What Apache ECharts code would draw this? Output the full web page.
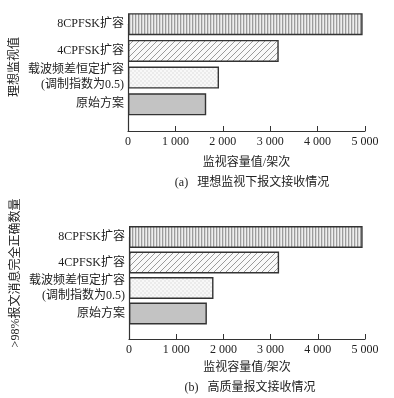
<!DOCTYPE html>
<html><head><meta charset="utf-8">
<script src="https://cdn.jsdelivr.net/npm/echarts@6/dist/echarts.min.js"></script>
<style>html,body{margin:0;padding:0;background:#fff}#c{width:394px;height:398px}</style>
</head><body><div id="c"></div>
<script>
const categories = ['', '原始方案', '载波频差恒定扩容\n(调制指数为0.5)', '4CPFSK扩容', '8CPFSK扩容'];
const valuesA = [null, 1650, 1920, 3180, 4950];
const valuesB = [null, 1650, 1790, 3180, 4950];
const xTicks = [0, 1000, 2000, 3000, 4000, 5000];
const yNameA = '理想监视值';
const yNameB = '>98%报文消息完全正确数量';
const xName = '监视容量值/架次';
const captionA = '(a)   理想监视下报文接收情况';
const captionB = '(b)   高质量报文接收情况';

const FONT = "'Liberation Serif','Noto Sans CJK SC',serif";
function pat(w, h, draw) {
  const c = document.createElement('canvas'); c.width = w; c.height = h;
  const ctx = c.getContext('2d'); draw(ctx); return c;
}
const pVert = pat(3, 4, ctx => {
  ctx.fillStyle = '#eeeeee'; ctx.fillRect(0, 0, 3, 4);
  ctx.fillStyle = '#9c9c9c'; ctx.fillRect(0, 0, 1, 4);
  ctx.fillStyle = '#d6d6d6'; ctx.fillRect(1, 0, 1, 4);
});
const pDiag = pat(6, 6, ctx => {
  ctx.fillStyle = '#f9f9f9'; ctx.fillRect(0, 0, 6, 6);
  ctx.strokeStyle = '#8e8e8e'; ctx.lineWidth = 0.9;
  ctx.beginPath();
  ctx.moveTo(-1, 7); ctx.lineTo(7, -1);
  ctx.moveTo(-1, 1); ctx.lineTo(1, -1);
  ctx.moveTo(5, 7); ctx.lineTo(7, 5);
  ctx.stroke();
});
const pDot = pat(4, 4, ctx => {
  ctx.fillStyle = '#f8f8f8'; ctx.fillRect(0, 0, 4, 4);
  ctx.fillStyle = '#ebebeb'; ctx.fillRect(0, 0, 2, 2); ctx.fillRect(2, 2, 2, 2);
});
const fills = [null, '#c3c3c3', {image: pDot, repeat: 'repeat'}, {image: pDiag, repeat: 'repeat'}, {image: pVert, repeat: 'repeat'}];

function fmt(v) { return v >= 1000 ? Math.floor(v / 1000) + ' ' + String(v % 1000).padStart(3, '0') : String(v); }

function mkData(vals) {
  return vals.map((v, i) => v == null ? '-' : {value: v, itemStyle: {color: fills[i], borderColor: '#333', borderWidth: 1.4}});
}

const chart = echarts.init(document.getElementById('c'), null, {renderer: 'canvas'});
const xAxisBase = (idx, nameGap) => ({
  type: 'value', gridIndex: idx, min: xTicks[0], max: xTicks[xTicks.length - 1], interval: xTicks[1] - xTicks[0],
  name: xName, nameLocation: 'middle', nameGap: nameGap,
  nameTextStyle: {fontFamily: FONT, fontSize: 12, color: '#222'},
  axisLine: {show: true, lineStyle: {color: '#333', width: 1.2}},
  axisTick: {show: true, inside: true, length: 5, lineStyle: {color: '#333'}},
  axisLabel: {formatter: fmt, fontFamily: FONT, fontSize: 12, color: '#222', margin: 5},
  splitLine: {show: false}
});
const yAxisBase = (idx) => ({
  type: 'category', gridIndex: idx, data: categories, boundaryGap: false,
  axisLine: {show: true, lineStyle: {color: '#333', width: 1.2}},
  axisTick: {show: false},
  axisLabel: {fontFamily: FONT, fontSize: 12, color: '#222', margin: 4, lineHeight: 15, align: 'right'},
  splitLine: {show: false}
});
chart.setOption({
  animation: false,
  backgroundColor: '#fff',
  grid: [
    {left: 128, right: 29, top: 24.2, bottom: 267},
    {left: 129, right: 29, top: 237, bottom: 59}
  ],
  xAxis: [xAxisBase(0, 26), xAxisBase(1, 23)],
  yAxis: [yAxisBase(0), yAxisBase(1)],
  series: [
    {type: 'bar', xAxisIndex: 0, yAxisIndex: 0, barWidth: 22, data: mkData(valuesA)},
    {type: 'bar', xAxisIndex: 1, yAxisIndex: 1, barWidth: 22, data: mkData(valuesB)}
  ],
  graphic: [
    {type: 'text', x: 15, y: 67, rotation: Math.PI / 2, style: {text: yNameA, font: '12px ' + FONT, fill: '#222', align: 'center', verticalAlign: 'middle'}},
    {type: 'text', x: 16, y: 273, rotation: Math.PI / 2, style: {text: yNameB, font: '12px ' + FONT, fill: '#222', align: 'center', verticalAlign: 'middle'}},
    {type: 'text', x: 252, y: 183, style: {text: captionA, font: '12px ' + FONT, fill: '#222', align: 'center', verticalAlign: 'middle'}},
    {type: 'text', x: 250, y: 388, style: {text: captionB, font: '12px ' + FONT, fill: '#222', align: 'center', verticalAlign: 'middle'}}
  ]
});
</script></body></html>
